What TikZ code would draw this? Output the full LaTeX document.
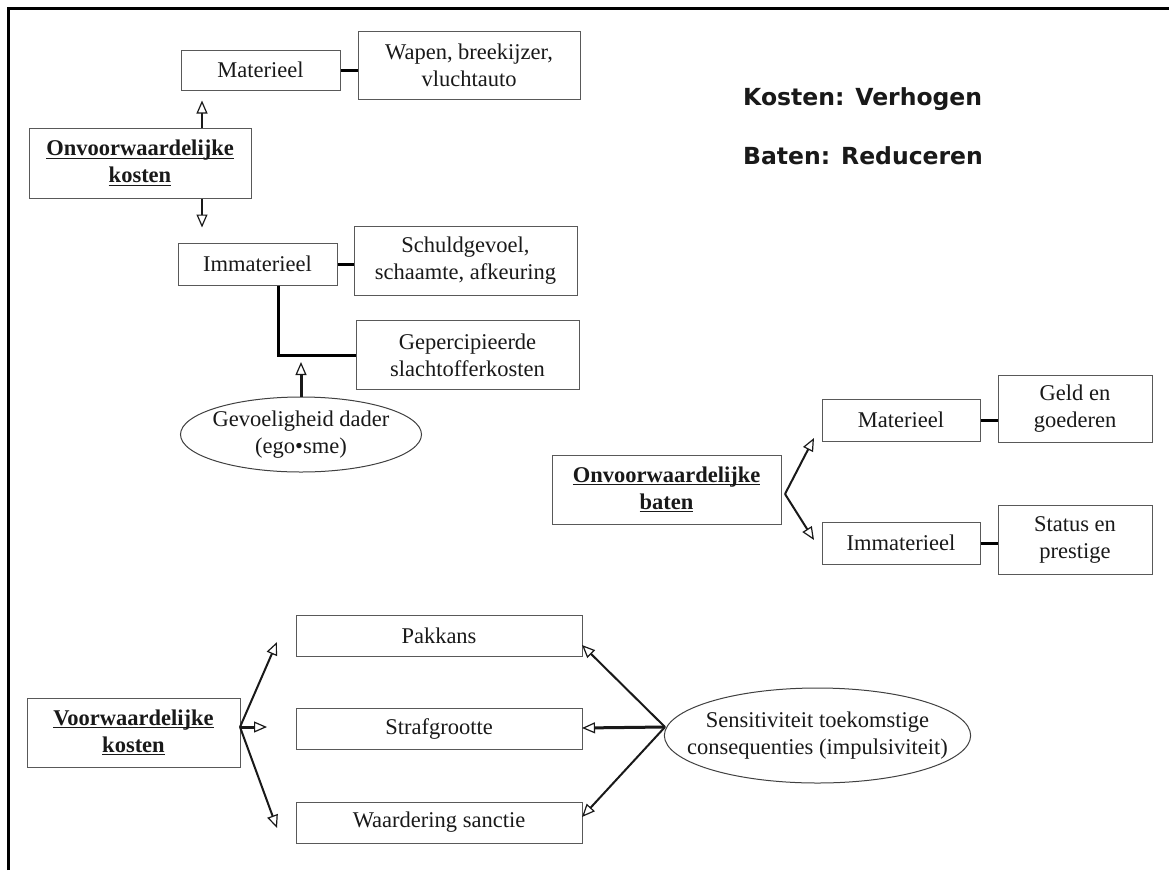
\documentclass[tikz,border=0pt]{standalone}
\usepackage{fontspec}
\setmainfont{Liberation Serif}
\newfontfamily\dvsans{DejaVu Sans}
\usetikzlibrary{arrows.meta,shapes.geometric}
\newcommand\hul[1]{\setbox0\hbox{#1}\rlap{\rule[-3pt]{\wd0}{1.3pt}}\box0}
\begin{document}
\begin{tikzpicture}[x=1pt,y=-1pt,
  txt/.style={font=\fontsize{22.5}{27}\selectfont, text=black!90},
  bx/.style={txt, draw=black!65, line width=1pt, rectangle, inner sep=0pt, align=center},
  ell/.style={txt, draw=black!75, line width=1pt, ellipse, inner sep=0pt, align=center},
  conn/.style={line width=3pt, black},
  oarr/.style={line width=2pt, black!90, -{Triangle[open,length=13pt,width=11pt,line width=1.2pt]}},
  oarrT/.style={oarr, line width=3pt},
  note/.style={font=\dvsans\bfseries\fontsize{23.5}{28}\selectfont, text=black!90, inner sep=0pt, anchor=base west}]
\useasboundingbox (0,0) rectangle (1169,870);
\fill[white] (0,0) rectangle (1169,870);
\draw[line width=3pt] (8,870) -- (8,8) -- (1169,8);

% top-left block
\node[bx, minimum width=159pt, minimum height=40pt] (matA) at (260.5,70) {Materieel};
\node[bx, minimum width=222pt, minimum height=68pt] (wapen) at (469,65) {Wapen, breekijzer,\\vluchtauto};
\node[bx, minimum width=222pt, minimum height=70pt] (onvK) at (140,163) {\textbf{\hul{Onvoorwaardelijke}}\\\textbf{\hul{kosten}}};
\node[bx, minimum width=159pt, minimum height=42pt] (immA) at (257.5,264) {Immaterieel};
\node[bx, minimum width=223pt, minimum height=69pt] (schuld) at (465.5,261) {Schuldgevoel,\\schaamte, afkeuring};
\node[bx, minimum width=223pt, minimum height=69pt] (geperc) at (467.5,355) {Gepercipieerde\\slachtofferkosten};
\node[ell, inner xsep=-5pt, minimum width=241pt, minimum height=75pt] (ego) at (301,434.5) {Gevoeligheid dader\\(ego•sme)};

\coordinate (upx) at (202,0);
\coordinate (vx) at (278,0);
\draw[conn] (matA.east) -- (wapen.west |- matA.east);
\draw[conn] (immA.east) -- (schuld.west |- immA.east);
\draw[oarr, shorten >=10pt] (onvK.north -| upx) -- (matA.south -| upx);
\draw[oarr, shorten >=15pt] (onvK.south -| upx) -- (immA.north -| upx);
\draw[conn] (immA.south -| vx) |- (geperc.west);
\draw[oarrT, shorten >=7pt] (ego.north) -- (ego.north |- geperc.west);

% notes
\node[note] (kv) at (743,105) {Kosten: Verhogen};
\node[note] (br) at (743,164) {Baten: Reduceren};

% right block
\node[bx, minimum width=229pt, minimum height=69pt] (onvB) at (666.5,489.5) {\textbf{\hul{Onvoorwaardelijke}}\\\textbf{\hul{baten}}};
\node[bx, minimum width=158pt, minimum height=42pt] (matB) at (901,420) {Materieel};
\node[bx, minimum width=154pt, minimum height=67pt] (geld) at (1075,409) {Geld en\\goederen};
\node[bx, minimum width=158pt, minimum height=42pt] (immB) at (901,543) {Immaterieel};
\node[bx, minimum width=154pt, minimum height=69pt] (status) at (1075,539.5) {Status en\\prestige};
\draw[conn] (matB.east) -- (matB.east -| geld.west);
\draw[conn] (immB.east) -- (immB.east -| status.west);
\coordinate (bv) at (785,494);
\coordinate (btA) at (814,438);
\coordinate (btB) at (814,540);
\draw[oarr] (bv) -- (btA);
\draw[oarr] (bv) -- (btB);

% bottom block
\node[bx, minimum width=213pt, minimum height=69pt] (voorK) at (133.5,732.5) {\textbf{\hul{Voorwaardelijke}}\\\textbf{\hul{kosten}}};
\node[bx, minimum width=286pt, minimum height=41pt] (pak) at (439,635.5) {Pakkans};
\node[bx, minimum width=286pt, minimum height=41pt] (straf) at (439,728.5) {Strafgrootte};
\node[bx, minimum width=286pt, minimum height=41pt] (waard) at (439,822.5) {Waardering sanctie};
\node[ell, inner xsep=-22pt, minimum width=305pt, minimum height=95pt] (sens) at (817.5,735.5) {Sensitiviteit toekomstige\\consequenties (impulsiviteit)};

\coordinate (lv) at (240,727);
\coordinate (ltA) at (277,642);
\coordinate (ltB) at (267,727);
\coordinate (ltC) at (277,828);
\draw[oarr] (lv) -- (ltA);
\draw[oarrT] (lv) -- (ltB);
\draw[oarr] (lv) -- (ltC);

\coordinate (sv) at (665,727);
\coordinate (stA) at (582,645);
\coordinate (stB) at (582,728);
\coordinate (stC) at (582,817);
\draw[oarr] (sv) -- (stA);
\draw[oarrT] (sv) -- (stB);
\draw[oarr] (sv) -- (stC);
\end{tikzpicture}
\end{document}
